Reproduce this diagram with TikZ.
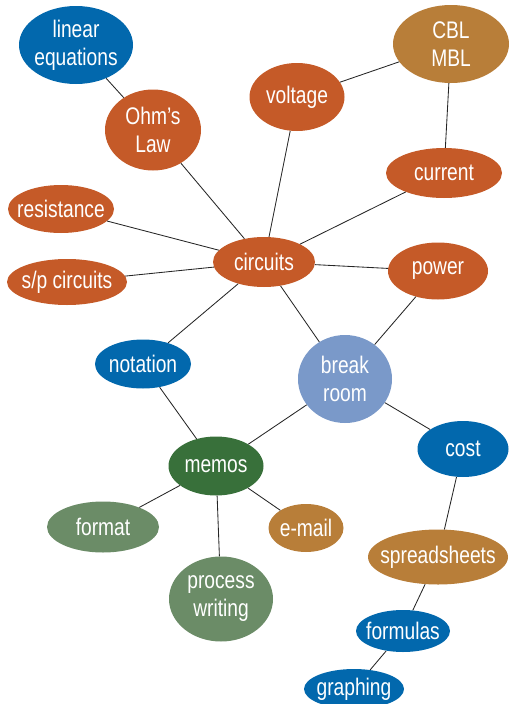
\documentclass[tikz,border=0pt]{standalone}
\usepackage{fontspec}
\setmainfont[FakeStretch=0.8]{Liberation Sans}
\usetikzlibrary{shapes.geometric}
\definecolor{rust}{HTML}{C55A28}
\definecolor{deepblue}{HTML}{0268AD}
\definecolor{ochre}{HTML}{B87E39}
\definecolor{paleblue}{HTML}{7A99C9}
\definecolor{darkgreen}{HTML}{38703A}
\definecolor{sage}{HTML}{6B8C67}
\begin{document}
\begin{tikzpicture}[x=1pt,y=-1pt,
  bubble/.style={ellipse,inner xsep=-14pt,inner ysep=-6pt,text=white,align=center,
    font=\fontsize{24}{28}\selectfont},
  link/.style={line width=0.85pt,black!85}]
\useasboundingbox (0,0) rectangle (509,704);
\node[bubble,fill=deepblue,minimum width=114,minimum height=78] (lineq) at (76,45) {linear\\equations};
\node[bubble,fill=rust,minimum width=96,minimum height=81] (ohm) at (153,130) {Ohm’s\\Law};
\node[bubble,fill=rust,minimum width=95,minimum height=68] (voltage) at (297,97) {voltage};
\node[bubble,fill=ochre,minimum width=116,minimum height=78] (cbl) at (451,44) {CBL\\MBL};
\node[bubble,fill=rust,minimum width=116,minimum height=50] (current) at (444,173) {current};
\node[bubble,fill=rust,minimum width=106,minimum height=48] (resist) at (61,209) {resistance};
\node[bubble,fill=rust,minimum width=102,minimum height=50] (circuits) at (264,262) {circuits};
\node[bubble,fill=rust,minimum width=120,minimum height=46] (spcirc) at (67,282) {s/p circuits};
\node[bubble,fill=rust,minimum width=100,minimum height=57] (power) at (438,271) {power};
\node[bubble,fill=deepblue,minimum width=96,minimum height=49] (notation) at (143,364) {notation};
\node[bubble,fill=paleblue,minimum width=94,minimum height=88] (break) at (345,379) {break\\room};
\node[bubble,fill=darkgreen,minimum width=95,minimum height=59] (memos) at (216,466) {memos};
\node[bubble,fill=deepblue,minimum width=91,minimum height=56] (cost) at (463,449) {cost};
\node[bubble,fill=sage,minimum width=112,minimum height=51] (format) at (103,527) {format};
\node[bubble,fill=ochre,minimum width=75,minimum height=48] (email) at (306,528) {e-mail};
\node[bubble,fill=ochre,minimum width=140,minimum height=55] (sheets) at (438,557) {spreadsheets};
\node[bubble,fill=sage,minimum width=104,minimum height=85] (process) at (221,599) {process\\writing};
\node[bubble,fill=deepblue,minimum width=94,minimum height=42] (formulas) at (403,631) {formulas};
\node[bubble,fill=deepblue,minimum width=100,minimum height=40] (graphing) at (354,689) {graphing};
\draw[link] (lineq) -- (ohm);
\draw[link] (ohm) -- (circuits);
\draw[link] (voltage) -- (cbl);
\draw[link] (voltage) -- (circuits);
\draw[link] (cbl) -- (current);
\draw[link] (current) -- (circuits);
\draw[link] (resist) -- (circuits);
\draw[link] (spcirc) -- (circuits);
\draw[link] (circuits) -- (power);
\draw[link] (circuits) -- (notation);
\draw[link] (circuits) -- (break);
\draw[link] (power) -- (break);
\draw[link] (notation) -- (memos);
\draw[link] (break) -- (memos);
\draw[link] (break) -- (cost);
\draw[link] (memos) -- (format);
\draw[link] (memos) -- (process);
\draw[link] (memos) -- (email);
\draw[link] (cost) -- (sheets);
\draw[link] (sheets) -- (formulas);
\draw[link] (formulas) -- (graphing);
\end{tikzpicture}
\end{document}
